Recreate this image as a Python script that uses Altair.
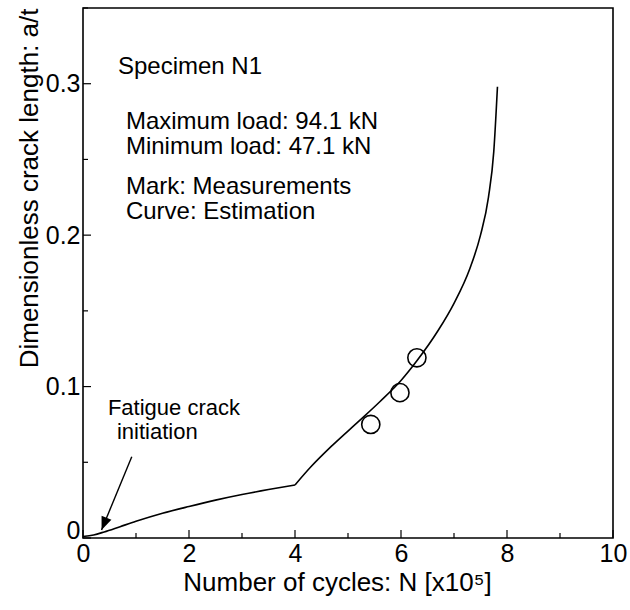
import altair as alt
import pandas as pd

# Estimated curve (x in 1e5 cycles, y = a/t), two branches meeting at the kink
curve_n = [0.0, 0.2, 0.4, 0.7, 1.0, 1.5, 2.0, 2.5, 3.0, 3.5, 4.0,
           4.0, 4.3, 4.7, 5.2, 5.6, 6.0, 6.3, 6.7, 7.0, 7.3, 7.5, 7.65, 7.75, 7.82]
curve_a = [0.001, 0.002, 0.004, 0.0075, 0.011, 0.0163, 0.0208, 0.025, 0.0287, 0.032, 0.035,
           0.035, 0.047, 0.061, 0.077, 0.090, 0.104, 0.117, 0.137, 0.155, 0.178, 0.200, 0.225, 0.255, 0.298]
curve_seg = [1] * 11 + [2] * 14

# Measurements
meas_n = [5.43, 5.98, 6.30]
meas_a = [0.075, 0.096, 0.119]

# Tick positions
x_ticks = [0, 1, 2, 3, 4, 5, 6, 7, 8, 9, 10]
x_major = [True, False, True, False, True, False, True, False, True, False, True]
y_ticks = [0.0, 0.05, 0.1, 0.15, 0.2, 0.25, 0.3, 0.35]
y_major = [True, False, True, False, True, False, True, False]

# Annotations
note_text = ["Specimen N1", "Maximum load: 94.1 kN", "Minimum load: 47.1 kN",
             "Mark: Measurements", "Curve: Estimation"]
note_x = [0.66, 0.81, 0.81, 0.81, 0.81]
note_y = [0.311, 0.2745, 0.258, 0.232, 0.2155]

fat_text = ["Fatigue crack", "initiation"]
fat_x = [0.47, 0.64]
fat_y = [0.0857, 0.0697]

arrow_x = [0.92]
arrow_y = [0.0537]
arrow_x2 = [0.35]
arrow_y2 = [0.0053]

W, H = 530, 530
FONT = "Liberation Sans"

xs = alt.Scale(domain=[0, 10], nice=False, zero=False)
ys = alt.Scale(domain=[0, 0.35], nice=False, zero=False)

curve_df = pd.DataFrame({"n": curve_n, "a": curve_a, "seg": curve_seg})
meas_df = pd.DataFrame({"n": meas_n, "a": meas_a})
xt_df = pd.DataFrame({"v": x_ticks, "major": x_major})
yt_df = pd.DataFrame({"v": y_ticks, "major": y_major})
note_df = pd.DataFrame({"t": note_text, "x": note_x, "y": note_y})
fat_df = pd.DataFrame({"t": fat_text, "x": fat_x, "y": fat_y})
arr_df = pd.DataFrame({"x": arrow_x, "y": arrow_y, "x2": arrow_x2, "y2": arrow_y2})

base_x = alt.X("n:Q", scale=xs, axis=alt.Axis(
    values=[0, 2, 4, 6, 8, 10], ticks=False, domain=False, grid=False,
    title="Number of cycles: N [x10\u2075]", labelFontSize=25, titleFontSize=26,
    labelFont=FONT, titleFont=FONT, labelColor="black", titleColor="black",
    titleFontWeight="normal", labelPadding=3, titlePadding=3, titleX=254,
    labelFlush=False))
base_y = alt.Y("a:Q", scale=ys, axis=alt.Axis(
    values=[0, 0.1, 0.2, 0.3], ticks=False, domain=False, grid=False,
    labelExpr="datum.value == 0 ? '0' : format(datum.value, '.1f')",
    labelBaseline={"condition": {"test": "datum.value == 0", "value": "alphabetic"},
                   "value": "middle"},
    title="Dimensionless crack length: a/t", labelFontSize=25, titleFontSize=26,
    labelFont=FONT, titleFont=FONT, labelColor="black", titleColor="black",
    titleFontWeight="normal", labelPadding=3, titlePadding=3, titleAnchor="end",
    labelFlush=False))

line = alt.Chart(curve_df).mark_line(color="black", strokeWidth=1.6,
                                     interpolate="monotone").encode(
    x=base_x, y=base_y, detail="seg:N", order=alt.Order("n:Q"))

pts = alt.Chart(meas_df).mark_point(shape="circle", size=330, color="black",
                                    strokeWidth=1.6, filled=False, opacity=1).encode(
    x=alt.X("n:Q", scale=xs), y=alt.Y("a:Q", scale=ys))

xt_major = alt.Chart(xt_df[xt_df["major"]]).mark_rule(color="black", strokeWidth=1.2).encode(
    x=alt.X("v:Q", scale=xs), y=alt.value(H), y2=alt.value(H - 8))
xt_minor = alt.Chart(xt_df[~xt_df["major"]]).mark_rule(color="black", strokeWidth=1.2).encode(
    x=alt.X("v:Q", scale=xs), y=alt.value(H), y2=alt.value(H - 5))
yt_major = alt.Chart(yt_df[yt_df["major"]]).mark_rule(color="black", strokeWidth=1.2).encode(
    y=alt.Y("v:Q", scale=ys), x=alt.value(0), x2=alt.value(8))
yt_minor = alt.Chart(yt_df[~yt_df["major"]]).mark_rule(color="black", strokeWidth=1.2).encode(
    y=alt.Y("v:Q", scale=ys), x=alt.value(0), x2=alt.value(5))

notes = alt.Chart(note_df).mark_text(align="left", baseline="middle", fontSize=24,
                                     font=FONT, color="black").encode(
    x=alt.X("x:Q", scale=xs), y=alt.Y("y:Q", scale=ys), text="t:N")

fat = alt.Chart(fat_df).mark_text(align="left", baseline="middle", fontSize=22,
                                  font=FONT, color="black").encode(
    x=alt.X("x:Q", scale=xs), y=alt.Y("y:Q", scale=ys), text="t:N")

arrow_line = alt.Chart(arr_df).mark_rule(color="black", strokeWidth=1.4).encode(
    x=alt.X("x:Q", scale=xs), y=alt.Y("y:Q", scale=ys), x2="x2:Q", y2="y2:Q")

arrow_head = alt.Chart(arr_df).mark_point(
    shape="M0,0 L-0.4,1 L0.4,1 Z", size=700, filled=True, color="black",
    opacity=1, angle=202).encode(
    x=alt.X("x2:Q", scale=xs), y=alt.Y("y2:Q", scale=ys))

chart = alt.layer(
    line, pts, xt_major, xt_minor, yt_major, yt_minor, notes, fat, arrow_line, arrow_head
).properties(
    width=W, height=H,
    padding={"left": 83, "top": 8, "right": 17, "bottom": 72},
    autosize=alt.AutoSizeParams(type="none"),
    background="white",
).configure_view(stroke="black", strokeWidth=1.6)

chart.save("out.html", embed_options={"renderer": "svg", "actions": False})
